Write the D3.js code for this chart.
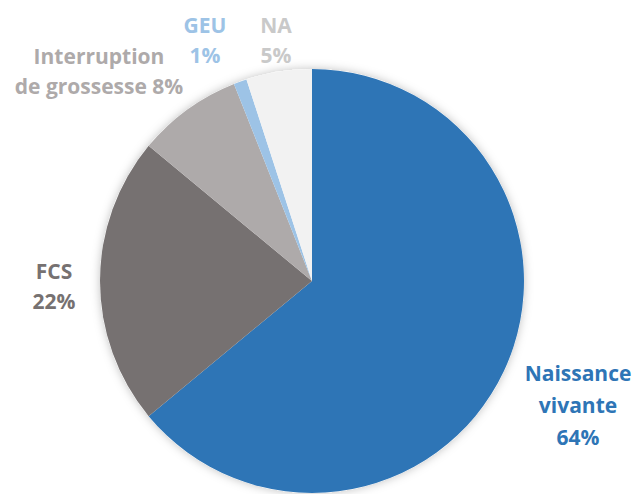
<!DOCTYPE html>
<html>
<head>
<meta charset="utf-8">
<script src="https://cdn.jsdelivr.net/npm/d3@7"></script>
<style>
  body { margin: 0; background: #fff; }
  svg { display: block; }
  .label { font-family: "Open Sans", Lato, sans-serif; font-weight: bold; font-size: 21px; text-anchor: middle; }
</style>
</head>
<body>
<svg width="635" height="494"></svg>
<script>
// categories and shares (percent), in drawing order clockwise from 12 o'clock
var categories = ["Naissance vivante", "FCS", "Interruption de grossesse", "GEU", "NA"];
var values = [64, 22, 8, 1, 5];
var sliceColours = ["#2e75b6", "#767171", "#aeaaaa", "#9dc3e6", "#f2f2f2"];
var labelColours = ["#2e75b6", "#767171", "#aeaaaa", "#9dc3e6", "#c9c9c9"];
// label lines (text broken as in the original)
var labelLines = [
  ["Naissance", "vivante", "64%"],
  ["FCS", "22%"],
  ["Interruption", "de grossesse 8%"],
  ["GEU", "1%"],
  ["NA", "5%"]
];
// label anchor (centre x, first baseline y)
var labelPos = [[578, 381], [54, 279], [99, 64], [205, 33], [276, 33]];

var svg = d3.select("svg"),
  cx = 312, cy = 281, radius = 212;

var defs = svg.append("defs");
var f = defs.append("filter").attr("id", "shadow")
  .attr("x", "-10%").attr("y", "-10%").attr("width", "120%").attr("height", "120%");
f.append("feDropShadow").attr("dx", 0).attr("dy", 0)
  .attr("stdDeviation", 5).attr("flood-color", "#000").attr("flood-opacity", 0.25);

var data = categories.map(function(c, i) { return {name: c, value: values[i], i: i}; });

var pie = d3.pie().sort(null).value(function(d) { return d.value; });
var arc = d3.arc().innerRadius(0).outerRadius(radius);

var g = svg.append("g").attr("transform", "translate(" + cx + "," + cy + ")");

g.append("circle").attr("r", radius).attr("fill", "#fff").attr("filter", "url(#shadow)");

g.selectAll("path.slice").data(pie(data)).enter().append("path")
  .attr("class", "slice")
  .attr("d", arc)
  .attr("fill", function(d) { return sliceColours[d.data.i]; });

var lab = svg.selectAll("text.label").data(data).enter().append("text")
  .attr("class", "label")
  .attr("x", function(d) { return labelPos[d.i][0]; })
  .attr("y", function(d) { return labelPos[d.i][1]; })
  .attr("fill", function(d) { return labelColours[d.i]; });

lab.each(function(d) {
  var t = d3.select(this);
  labelLines[d.i].forEach(function(line, k) {
    t.append("tspan").attr("x", labelPos[d.i][0])
      .attr("dy", k == 0 ? 0 : (d.i == 0 ? 32 : 30))
      .text(line);
  });
});
</script>
</body>
</html>
